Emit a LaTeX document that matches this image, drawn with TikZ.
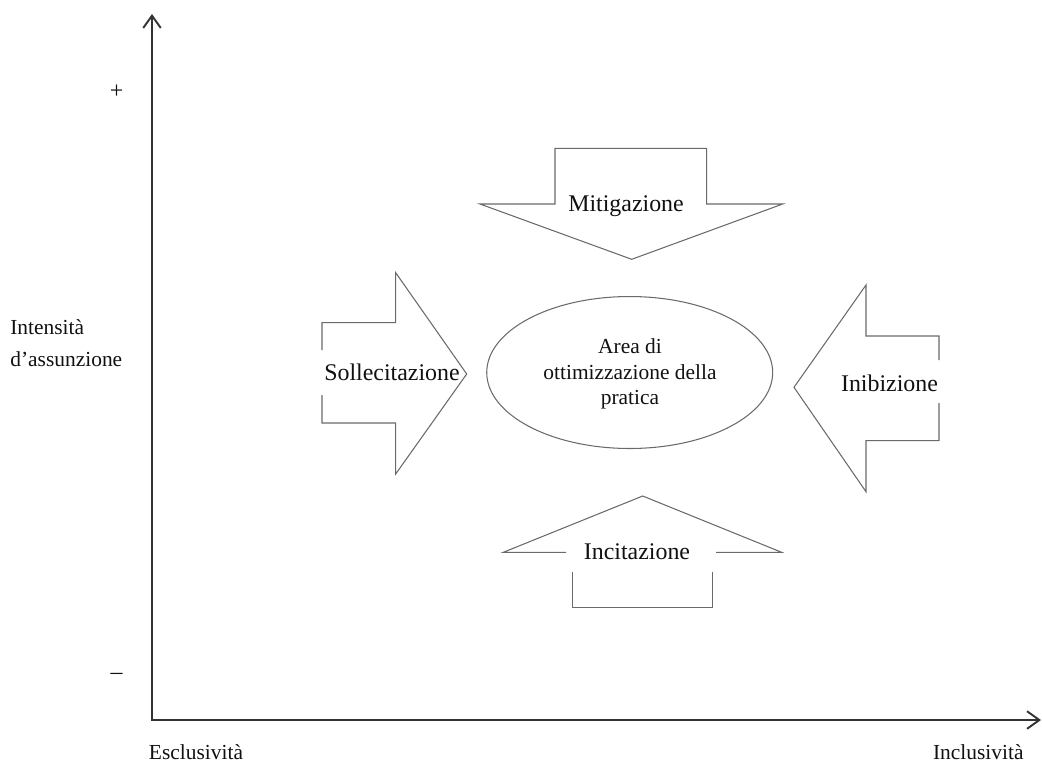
\documentclass[tikz,border=0pt]{standalone}
\usepackage{fontspec}
\setmainfont{Liberation Serif}
\usetikzlibrary{arrows.meta,shapes.geometric}
\definecolor{inkdark}{HTML}{111111}
\definecolor{outline}{HTML}{6A6A6A}
\definecolor{axisgray}{HTML}{333333}
\begin{document}
\begin{tikzpicture}[x=0.02cm,y=-0.02cm,
  axis/.style={line width=1.1pt, draw=axisgray, line join=miter,
    {Straight Barb[length=7pt,width=10pt]}-{Straight Barb[length=7pt,width=10pt]}},
  blockfill/.style={fill=white},
  blockline/.style={draw=outline, line width=0.6pt, line join=miter},
  arrowlabel/.style={inner sep=0pt, text=inkdark,
    font=\fontsize{13.6}{16}\selectfont},
  axislabel/.style={inner sep=0pt, text=inkdark,
    font=\fontsize{12.2}{18}\selectfont},
  area/.style={draw=outline, line width=0.6pt, ellipse, inner sep=0pt,
    minimum width=57.2mm, minimum height=30.4mm},
  areatext/.style={inner sep=0pt, align=center, text=inkdark,
    font=\fontsize{12.2}{14.7}\selectfont},
]
\useasboundingbox (0,0) rectangle (1042,762);

% axes
\coordinate (ytip) at (152,14);
\coordinate (origin) at (152,720);
\coordinate (xtip) at (1041,720);
\draw[axis] (ytip) -- (origin) -- (xtip);

% axis labels
\node[axislabel] (plus) at (116.7,91.7) {\fontsize{13.6}{16}\selectfont +};
\node[axislabel] (minus) at (116.7,676) {\fontsize{13.6}{16}\selectfont –};
\node[axislabel, align=left, anchor=west] (intens) at (10,343) {Intensità\\d’assunzione};
\node[axislabel] (escl) at (196,752) {Esclusività};
\node[axislabel] (incl) at (978.3,752) {Inclusività};

% central area
\node[area] (areaopt) at (629.7,372.5) {};
\node[areatext] (areatxt) at (630,374) {Area di\\ottimizzazione della\\pratica};

% block arrow from the left (outline broken where the label sits)
\fill[blockfill] (322,322.7) -- (395.7,322.7) -- (395.7,272.7) -- (466.7,374)
  -- (395.7,474) -- (395.7,423) -- (322,423) -- cycle;
\draw[blockline] (322,350) -- (322,322.7) -- (395.7,322.7) -- (395.7,272.7)
  -- (466.7,374) -- (395.7,474) -- (395.7,423) -- (322,423) -- (322,395);
\node[arrowlabel] (soll) at (392,372.5) {Sollecitazione};

% block arrow from the right
\fill[blockfill] (794,387.3) -- (866,285) -- (866,336) -- (939,336)
  -- (939,440.7) -- (866,440.7) -- (866,491.7) -- cycle;
\draw[blockline] (939,403) -- (939,440.7) -- (866,440.7) -- (866,491.7)
  -- (794,387.3) -- (866,285) -- (866,336) -- (939,336) -- (939,360);
\node[arrowlabel] (inib) at (889.5,383) {Inibizione};

% block arrow from above
\fill[blockfill] (555,148.3) -- (706.7,148.3) -- (706.7,204) -- (782.7,204)
  -- (631.7,259.3) -- (480,204) -- (555,204) -- cycle;
\draw[blockline] (555,148.3) -- (706.7,148.3) -- (706.7,204) -- (782.7,204)
  -- (631.7,259.3) -- (480,204) -- (555,204) -- cycle;
\node[arrowlabel] (mitig) at (626,206) {Mitigazione};

% block arrow from below
\fill[blockfill] (642.7,496) -- (781.7,552.3) -- (712.7,552.3) -- (712.7,607.7)
  -- (572.3,607.7) -- (572.3,552.3) -- (503.3,552.3) -- cycle;
\draw[blockline] (566,552.3) -- (503.3,552.3) -- (642.7,496) -- (781.7,552.3)
  -- (716,552.3);
\draw[blockline] (712.7,572) -- (712.7,607.7) -- (572.3,607.7) -- (572.3,572);
\node[arrowlabel] (incit) at (637,552) {Incitazione};
\end{tikzpicture}
\end{document}
